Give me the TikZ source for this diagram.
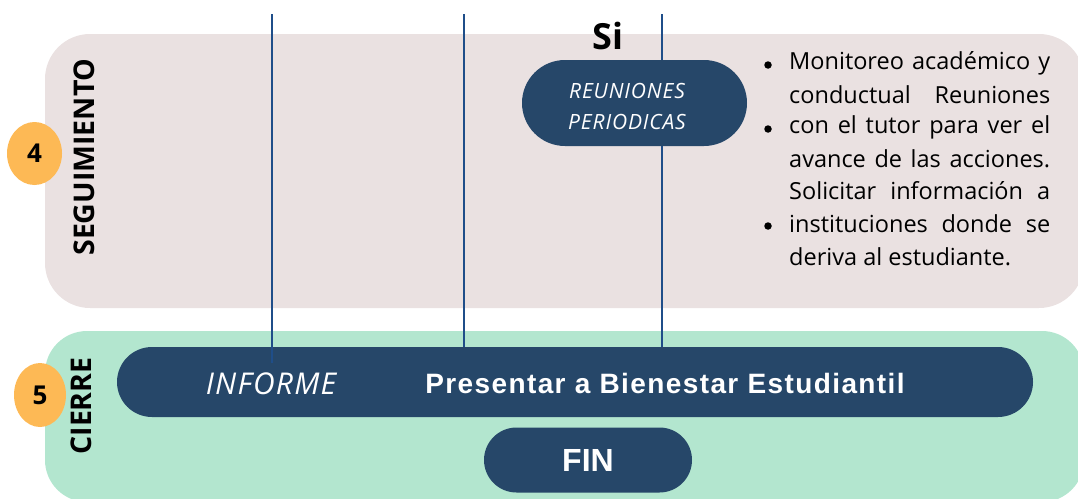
\documentclass[tikz,border=0pt]{standalone}
\usepackage{fontspec}
\setmainfont{Open Sans}
\newfontfamily\arialb[LetterSpace=5]{Liberation Sans}
\newfontfamily\arialf{Liberation Sans}
\newfontfamily\handf[LetterSpace=4]{Open Sans}
\usetikzlibrary{shapes.misc,shapes.geometric}
\definecolor{pinkbg}{HTML}{EAE1E1}
\definecolor{mintbg}{HTML}{B3E6CF}
\definecolor{navy}{HTML}{264769}
\definecolor{linec}{HTML}{1F4E89}
\definecolor{orangec}{HTML}{FDB955}
\tikzset{
  pill/.style={rounded rectangle, fill=navy, text=white, inner sep=0pt},
  numc/.style={ellipse, fill=orangec, inner sep=0pt, font=\bfseries\fontsize{26}{26}\selectfont},
  vlab/.style={rotate=90, font=\bfseries\fontsize{28.5}{28.5}\selectfont},
  conn/.style={draw=linec, line width=2pt},
  hand/.style={font=\handf\itshape\fontsize{21}{31}\selectfont},
  btext/.style={anchor=west, inner sep=0pt, font=\fontsize{23.5}{28}\selectfont},
  bul/.style={circle, fill=black, inner sep=0pt, minimum size=7.5pt},
}
\begin{document}
\begin{tikzpicture}[x=1pt,y=-1pt]
\useasboundingbox (0,0) rectangle (1078,498);
% panels
\fill[pinkbg, rounded corners=45pt] (45,34) rectangle (1084,308);
\fill[mintbg, rounded corners=42pt] (45,331) rectangle (1084,502);
% number circles
\node[numc, minimum width=55pt, minimum height=63pt] (n4) at (34.5,153.5) {4};
\node[numc, minimum width=52pt, minimum height=64pt] (n5) at (40,395) {5};
% labels
\node[vlab] (segl) at (84,157) {SEGUIMIENTO};
\node[vlab] (ciel) at (81,406) {CIERRE};
% main bar
\node[pill, minimum width=916pt, minimum height=70pt] (bar) at (575,382) {};
% coordinates for line tops
\coordinate (t1) at (272,14);
\coordinate (t2) at (464,14);
\coordinate (t3) at (662,14);
\draw[conn] (t2) -- (t2 |- bar.north);
\draw[conn] (t3) -- (t3 |- bar.north);
% reuniones
\node[pill, minimum width=225pt, minimum height=86pt] (reu) at (634.5,103) {};
\node[hand, text=white, align=center, inner sep=0pt] (reut) at (627,106) {REUNIONES\\PERIODICAS};
\node[font=\bfseries\fontsize{36}{36}\selectfont, inner sep=0pt] (si) at (608,36) {Si};
% line over bar
\coordinate (b1) at (272,363);
\draw[conn] (t1) -- (b1);
% bar texts
\node[text=white, font=\handf\itshape\fontsize{30}{30}\selectfont, inner sep=0pt] (inf) at (271,384) {INFORME};
\node[text=white, font=\arialb\bfseries\fontsize{28}{28}\selectfont, inner sep=0pt] (pres) at (665,383) {Presentar a Bienestar Estudiantil};
% fin
\node[pill, minimum width=208pt, minimum height=65pt, font=\arialf\bfseries\fontsize{32}{32}\selectfont] (fin) at (588,460) {FIN};
% bullet list
\node[btext] (l1) at (789,63) {\makebox[261pt][s]{Monitoreo académico y}};
\node[btext] (l2) at (789,95) {\makebox[261pt][s]{conductual Reuniones}};
\node[btext] (l3) at (789,127) {\makebox[261pt][s]{con el tutor para ver el}};
\node[btext] (l4) at (789,159) {\makebox[261pt][s]{avance de las acciones.}};
\node[btext] (l5) at (789,191) {\makebox[261pt][s]{Solicitar información a}};
\node[btext] (l6) at (789,224) {\makebox[261pt][s]{instituciones donde se}};
\node[btext] (l7) at (789,257) {deriva al estudiante.};
\node[bul] (b1d) at (768,65) {};
\node[bul] (b3d) at (768,129) {};
\node[bul] (b6d) at (768,226) {};
\end{tikzpicture}
\end{document}
